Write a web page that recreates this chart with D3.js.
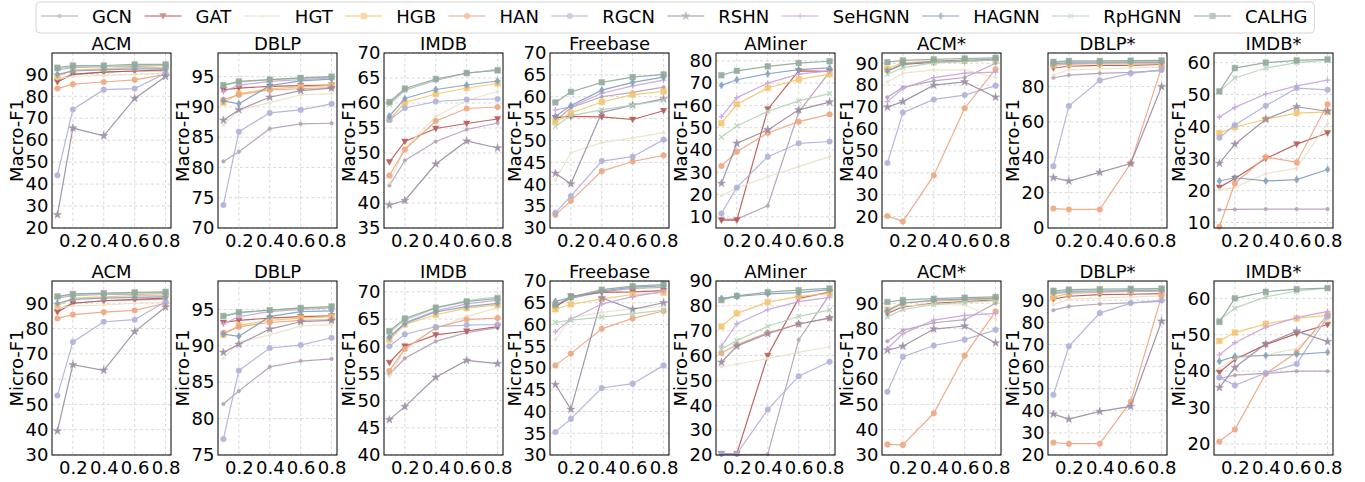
<!DOCTYPE html>
<html>
<head>
<meta charset="utf-8">
<script src="https://cdn.jsdelivr.net/npm/d3@7"></script>
<style>
  body { margin: 0; background: #fff; }
  text { font-family: "DejaVu Sans", sans-serif; fill: #000; }
</style>
</head>
<body>
<svg id="chart" width="1365" height="482"></svg>
<script>
// label ratios on the x axis
const ratios = [0.1, 0.2, 0.4, 0.6, 0.8];
const xTicks = [0.2, 0.4, 0.6, 0.8];

const methods = ['GCN', 'GAT', 'HGT', 'HGB', 'HAN', 'RGCN', 'RSHN', 'SeHGNN', 'HAGNN', 'RpHGNN', 'CALHG'];
const datasets = ['ACM', 'DBLP', 'IMDB', 'Freebase', 'AMiner', 'ACM*', 'DBLP*', 'IMDB*'];

// Macro-F1, one row per method (same order as methods)
const macroACM = [[87.5,90,91,91.5,91.5],[86.5,90,91,91.5,92],[88,89,89.5,90,90.5],[89,92,92.5,93,93],[83.5,85.5,86.5,87.5,90],[44,74,83,83.5,90.5],[26,65.5,62,79,89],[92,93,93.5,93.5,94],[90,91.5,92,92.5,92.5],[92.5,93.5,93.5,94,94],[93,94,94,94.5,94.5]];
const macroDBLP = [[81,82.6,86.4,87.2,87.3],[92.8,93.1,93.4,93.5,93.6],[87,89.5,90.7,92,92.2],[90.7,92.2,93,93.3,93.5],[91.2,92,92.8,93,93.2],[73.8,85.9,89,89.5,90.5],[87.8,89.5,91.6,92.7,93.1],[92.5,93.6,94.2,94.5,94.8],[91,90.5,93.5,94.3,94.6],[93.5,94.1,94.5,94.7,94.9],[93.6,94.2,94.5,94.8,95.0]];
const macroIMDB = [[43.5,48.5,52.3,54.7,56],[48.2,52.3,54.9,55.9,56.8],[44,51,57.3,60.5,62.3],[56.7,60.1,61.8,63,63.9],[45.5,50.7,56.4,58.9,59.2],[56.6,59,60.3,60.7,60.8],[39.6,40.5,47.8,52.4,51],[60,62.6,64.5,66,66.6],[57.4,60.9,62.7,63.6,64.4],[59.7,62.5,64.7,65.9,66.8],[60.2,62.9,64.8,66,66.5]];
const macroFreebase = [[54.5,57.5,60,61,62.2],[55.2,55.5,55.4,54.8,56.8],[41,47.2,49.5,50.6,51.8],[54.3,56.3,58.8,60.5,61.2],[33,36.2,43,45.2,46.6],[33.5,37.3,45.3,46.3,50.2],[42.5,40.1,56.4,58.1,59.5],[57,57.7,60.8,62.5,63.8],[55.5,58,61.5,63.3,64.5],[53.2,55.7,57,58.1,59.2],[58.7,61.1,63.3,64.5,65.1]];
const macroAMiner = [[9,9,15,57,75],[8.5,8.5,58.3,75.5,75.3],[19.5,23,28,32.5,37],[52,60.5,67.8,71.7,74],[32.8,39.2,47.6,52.7,56],[11.5,23.2,37,43,43.8],[25,43,49,58,61.5],[55,63.5,70,74,75.5],[69,71.5,74.2,76,76.8],[45.8,50.8,57.3,62,65.3],[73.5,75.5,77.5,79,79.8]];
const macroACMs = [[74.5,79,82,83.5,90],[86.5,89.5,90.5,91,91.5],[81.5,85.5,87,87,83.5],[87.5,90.3,90.8,91.3,91.5],[20.3,17.8,38.8,69.5,87.3],[44.5,67.5,73.5,75.5,79.8],[70,72.5,80,81.5,74.5],[72.5,78.5,83.5,85.5,86],[86.5,89.6,91,91.5,91.8],[85,88,90.2,90.7,91.5],[90.5,91.3,91.8,92.2,92.5]];
const macroDBLPs = [[85,86.5,87.5,88,89],[90.5,91.5,92,92,92.5],[86.5,89.5,90,90.5,91],[92,92.5,93,93,93],[11,10.5,10.5,36.5,91],[35,69,83.5,87.5,89.5],[28.5,26.5,31.5,36.5,80],[92.5,93,93.2,93.5,93.5],[93,93.5,93.7,94,94],[93.5,94,94,94.3,94.5],[94,94.5,94.5,94.7,94.8]];
const macroIMDBs = [[14,14.1,14.2,14.2,14.2],[21,23.8,30,34.5,38],[20.3,21,25.3,27,41],[38,39.8,42.3,44.2,44.6],[8.7,22.3,30.5,28.8,47],[36.5,40.5,46.5,52,51.5],[28.5,34.5,42.3,46.2,44.8],[43,46,50.2,52.7,54.5],[23,24,23,23.4,26.6],[51,55.2,58.3,60,60.8],[51,58.3,60,60.7,61]];

// Micro-F1
const microACM = [[87.5,90,91,91.3,91.5],[86.5,90,91,91.5,92],[88,89,89.3,90,90.5],[89,92,92.5,93,93],[84,85.5,86.5,87.2,90],[53.5,74.7,82.7,83.5,90.7],[39.5,65.7,63.5,78.8,88.5],[92,93,93.5,93.5,93.8],[90,91.5,92,92.3,92.5],[92.5,93.3,93.7,94,94.2],[92.7,93.7,94,94.3,94.5]];
const microDBLP = [[82,83.8,87.1,87.9,88.2],[93.2,93.5,93.8,94,94.1],[88.3,90.5,91.5,92.7,92.9],[91.5,92.8,93.5,93.8,94],[91.8,92.6,93.2,93.5,93.6],[77.2,86.6,89.7,90.1,91.1],[89.1,90.2,92.3,93.3,93.5],[93,94,94.7,95,95.2],[91.6,91.3,94,94.7,94.8],[94,94.5,94.9,95.1,95.3],[94.1,94.6,94.9,95.2,95.4]];
const microIMDB = [[54.8,57.8,60.9,62.5,63.4],[57,60,62.1,62.8,63.6],[54.5,59.5,63.3,65.5,67],[61.2,64,65.8,67,67.6],[55.5,59.5,63.4,64.9,65.2],[60,62.2,63.6,63.9,64],[46.5,48.9,54.3,57.4,56.8],[61.5,64.3,66.5,67.8,68.5],[61.7,64.2,66.3,67.3,67.9],[62.5,64.8,67,68.4,69.1],[62.8,65.1,67.1,68.2,68.8]];
const microFreebase = [[64.2,66,67.5,68.3,68.5],[64,66.5,67.4,67.5,67.8],[56.5,61.5,62.8,63.6,64.2],[63.5,64.6,65.9,66.9,67.3],[50.6,53.3,59,61.4,63.1],[35.3,38.3,45.4,46.4,50.6],[46.2,40.5,66.1,63.5,65],[58.3,61.2,64.7,66.4,67.6],[65.3,66.2,67.7,68.6,68.9],[60.5,61,61.7,62.5,63.3],[64.5,66.3,68,68.8,69.2]];
const microAMiner = [[20.2,20.2,20.3,66.3,84.5],[20.5,20.5,60,83,85.5],[55.5,56.5,58.8,61.3,63.5],[71.7,77,81.5,83.7,85],[61,64.3,69.2,72.7,75],[20.5,20.5,38.3,51.7,57.5],[57.3,63.8,68.8,72.7,75.2],[63.8,72.8,78.5,81.7,83.4],[83,83.8,84.8,85.3,86.5],[62.6,66,71.8,75.8,78.3],[82.3,84,85.5,86.3,87]];
const microACMs = [[75,79.3,82.3,83.5,90],[86,88.6,90,90.7,91.3],[86.5,89,89.5,89.3,83.8],[87.5,90.3,90.8,91.3,91.5],[34.2,34,46.5,69.3,86.8],[55,68.8,73.3,75.6,79.5],[71.5,73,79.8,81,74.3],[72,78,83.3,85.2,86],[87,90,91.2,91.6,92],[84.6,87.5,89.5,90.3,91],[90.5,91.3,91.8,92.2,92.5]];
const microDBLPs = [[85.5,87.2,88.3,88.8,89.5],[90.5,91.8,92.5,92.7,93],[88,90.5,91,91.5,92],[91.5,93,93.7,94,94],[25.6,25.1,25.1,44.1,92],[47.2,69.2,84.2,88.7,90],[38.5,36.2,39.7,42,80.5],[93,93.5,93.8,94,94.2],[93.5,94,94.3,94.5,94.6],[93.8,94.3,94.5,94.8,95],[94.3,94.8,95,95.2,95.3]];
const microIMDBs = [[38,38.9,39.4,40,40],[39.7,43.2,47.3,50.3,52.8],[40.8,43.5,44.5,46.2,54],[48.3,50.6,53,54.5,55.3],[20.7,24,39.3,45.2,55.5],[38.3,36.1,39.5,42,55],[35.5,41,47.5,51,48.1],[44.5,47.8,52.1,54.7,56.4],[42.7,44.1,44.3,44.6,45.2],[54,57.3,60.4,62,62.8],[53.5,60,61.8,62.5,62.8]];

// y axis limits and tick values per panel
const macroDomains = [[20,99.7],[70,98.9],[35,70],[30,70],[5,83.5],[14.8,94.7],[0,99],[8.3,63]];
const macroTicks = [d3.range(20,91,10), d3.range(70,96,5), d3.range(35,71,5), d3.range(30,71,5), d3.range(10,81,10), d3.range(20,91,10), d3.range(0,81,20), d3.range(10,61,10)];
const microDomains = [[30,98.8],[75,98.9],[40,72],[30,70],[20,90],[30,98.8],[20,98.7],[17,64.75]];
const microTicks = [d3.range(30,91,10), d3.range(75,96,5), d3.range(40,71,5), d3.range(30,71,5), d3.range(20,91,10), d3.range(30,91,10), d3.range(20,91,10), d3.range(20,61,10)];

const colors = ['#b29fb5', '#b85450', '#ebe3c6', '#f5c46a', '#eea57f', '#aeb0da', '#9a8aa2', '#c7a3dd', '#819fbc', '#b4d3b6', '#8fa89a'];
const markers = ['dot', 'tri', 'small', 'square', 'circle', 'circle', 'star', 'plus', 'diamond', 'x', 'square'];

const FS = 18;
const svg = d3.select('#chart');

// marker path around the origin
function markerPath(type) {
    switch (type) {
        case 'dot': return 'M1.8,0A1.8,1.8 0 1 1 -1.8,0A1.8,1.8 0 1 1 1.8,0Z';
        case 'small': return 'M1.5,0A1.5,1.5 0 1 1 -1.5,0A1.5,1.5 0 1 1 1.5,0Z';
        case 'circle': return 'M2.8,0A2.8,2.8 0 1 1 -2.8,0A2.8,2.8 0 1 1 2.8,0Z';
        case 'square': return 'M-2.8,-2.8H2.8V2.8H-2.8Z';
        case 'tri': return 'M-3.2,-2.4L3.2,-2.4L0,3.2Z';
        case 'diamond': return 'M0,-3.6L2.4,0L0,3.6L-2.4,0Z';
        case 'star': return d3.symbol().type(d3.symbolStar).size(20)();
        case 'plus': return 'M-2.8,0H2.8M0,-2.8V2.8';
        case 'x': return 'M-2.4,-2.4L2.4,2.4M-2.4,2.4L2.4,-2.4';
    }
}
const strokeMarker = t => t === 'plus' || t === 'x';

function drawMarker(g, type, color) {
    g.append('path')
        .attr('d', markerPath(type))
        .attr('fill', strokeMarker(type) ? 'none' : color)
        .attr('stroke', color)
        .attr('stroke-width', strokeMarker(type) ? 1.3 : 0.5);
}

const panels = [];
const macroSets = [macroACM, macroDBLP, macroIMDB, macroFreebase, macroAMiner, macroACMs, macroDBLPs, macroIMDBs];
const microSets = [microACM, microDBLP, microIMDB, microFreebase, microAMiner, microACMs, microDBLPs, microIMDBs];
datasets.forEach((d, i) => panels.push({ title: d, ylabel: 'Macro-F1', values: macroSets[i], domain: macroDomains[i], ticks: macroTicks[i], row: 0, col: i }));
datasets.forEach((d, i) => panels.push({ title: d, ylabel: 'Micro-F1', values: microSets[i], domain: microDomains[i], ticks: microTicks[i], row: 1, col: i }));

const plotW = 119;
panels.forEach(p => {
    const left = 52 + p.col * 166;
    const top = p.row === 0 ? 53 : 281;
    const h = p.row === 0 ? 175 : 174;

    const x = d3.scaleLinear().domain([0.065, 0.835]).range([0, plotW]);
    const y = d3.scaleLinear().domain(p.domain).range([h, 0]);

    const g = svg.append('g').attr('transform', `translate(${left},${top})`);

    // grid
    g.append('g').selectAll('line').data(p.ticks).join('line')
        .attr('x1', 0).attr('x2', plotW)
        .attr('y1', d => y(d)).attr('y2', d => y(d))
        .attr('stroke', '#cfcfcf').attr('stroke-width', 0.8).attr('stroke-dasharray', '3,2.5');
    g.append('g').selectAll('line').data(xTicks).join('line')
        .attr('y1', 0).attr('y2', h)
        .attr('x1', d => x(d)).attr('x2', d => x(d))
        .attr('stroke', '#cfcfcf').attr('stroke-width', 0.8).attr('stroke-dasharray', '3,2.5');

    // axes (no visible tick marks)
    const xAxis = g.append('g').attr('transform', `translate(0,${h})`)
        .call(d3.axisBottom(x).tickValues(xTicks).tickFormat(d3.format('.1f')).tickSize(0).tickPadding(6));
    const yAxis = g.append('g')
        .call(d3.axisLeft(y).tickValues(p.ticks).tickFormat(d3.format('d')).tickSize(0).tickPadding(3.5));
    [xAxis, yAxis].forEach(a => {
        a.select('.domain').remove();
        a.selectAll('text').attr('font-size', FS).attr('font-family', '"DejaVu Sans", sans-serif').attr('fill', '#000');
    });

    // lines
    const line = d3.line().x((d, i) => x(ratios[i])).y(d => y(d));
    p.values.forEach((vals, k) => {
        const s = g.append('g').attr('opacity', 0.9);
        s.append('path').attr('d', line(vals))
            .attr('fill', 'none').attr('stroke', colors[k]).attr('stroke-width', 1.2);
        vals.forEach((v, i) => {
            const m = s.append('g').attr('transform', `translate(${x(ratios[i])},${y(v)})`);
            drawMarker(m, markers[k], colors[k]);
        });
    });

    // frame
    g.append('rect').attr('width', plotW).attr('height', h)
        .attr('fill', 'none').attr('stroke', '#000').attr('stroke-width', 1);

    // title
    g.append('text').attr('x', plotW / 2).attr('y', -3)
        .attr('text-anchor', 'middle').attr('font-size', FS).text(p.title);

    // y label
    g.append('text')
        .attr('transform', `translate(-29,${h / 2}) rotate(-90)`)
        .attr('text-anchor', 'middle').attr('font-size', FS).text(p.ylabel);
});

// legend
const legend = svg.append('g');
const box = legend.append('rect')
    .attr('y', 2).attr('height', 31).attr('rx', 4)
    .attr('fill', '#fff').attr('stroke', '#d6d6d6').attr('stroke-width', 1);
let lx = 41;
methods.forEach((m, k) => {
    const item = legend.append('g').attr('opacity', 0.65);
    item.append('line').attr('x1', lx).attr('x2', lx + 37).attr('y1', 16).attr('y2', 16)
        .attr('stroke', colors[k]).attr('stroke-width', 1.5);
    const mk = item.append('g').attr('transform', `translate(${lx + 18.5},16)`);
    drawMarker(mk, markers[k], colors[k]);
    const t = legend.append('text').attr('x', lx + 51).attr('y', 23).attr('font-size', FS).text(m);
    lx += 51 + t.node().getComputedTextLength() + 12.5;
});
box.attr('x', 36).attr('width', lx - 12.5 + 7 - 36);
</script>
</body>
</html>
